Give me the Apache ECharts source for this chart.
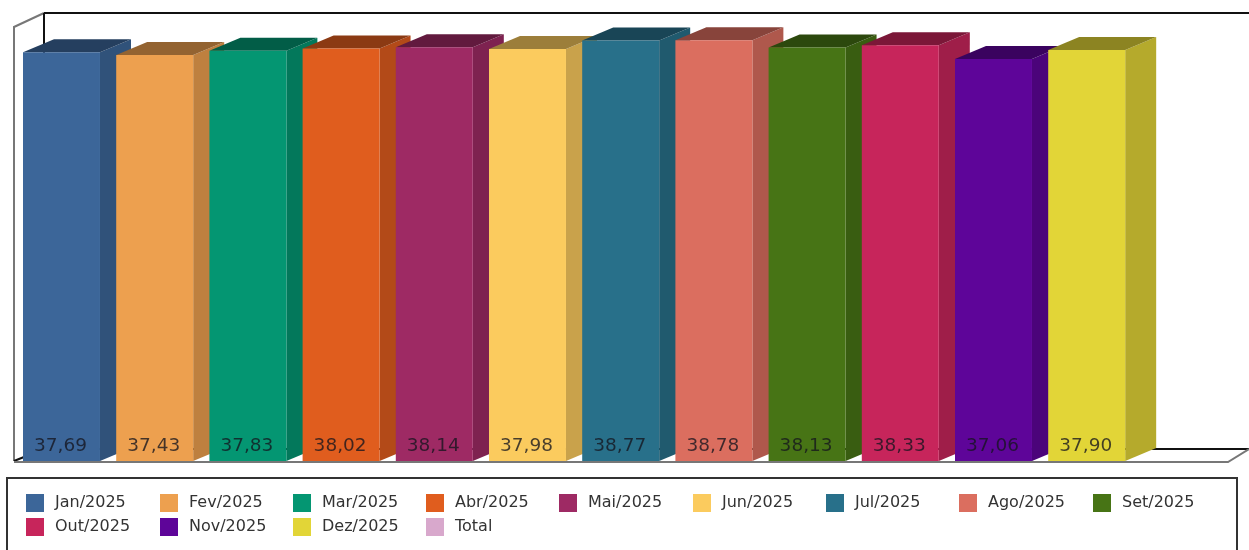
<!DOCTYPE html>
<html><head><meta charset="utf-8">
<style>html,body{margin:0;padding:0;background:#fff}#c{width:1249px;height:550px}</style>
<script src="https://cdn.jsdelivr.net/npm/echarts@6/dist/echarts.min.js"></script>
</head><body><div id="c"></div>
<script>
const categories = ['Jan/2025','Fev/2025','Mar/2025','Abr/2025','Mai/2025','Jun/2025','Jul/2025','Ago/2025','Set/2025','Out/2025','Nov/2025','Dez/2025'];
const values = [37.69,37.43,37.83,38.02,38.14,37.98,38.77,38.78,38.13,38.33,37.06,37.90];
const colors = ['#3C6699','#EDA04F','#049672','#E05D1E','#9E2A64','#FBCB5E','#28708A','#DB6E5F','#477415','#C7255B','#5E0599','#E2D537'];
const totalName = 'Total';
const totalColor = '#D8A8CC';
const legendColumnsX = [26,160,293,426,559,693,826,959,1093];

const chart = echarts.init(document.getElementById('c'));
const DX = 31, DY = 13;
const darken = (col, k) => echarts.color.lerp(k, [col, '#000000']);
function renderBar(params, api) {
  const c = api.coord([api.value(0), api.value(1)]);
  const base = api.coord([api.value(0), 0]);
  const band = api.size([1, 0])[0];
  const x0 = c[0] - band / 2, w = band * 0.826, x1 = x0 + w;
  const yT = c[1], yB = base[1];
  const col = api.visual('color');
  const label = api.value(1).toFixed(2).replace('.', ',');
  return { type: 'group', children: [
    { type: 'polygon', shape: { points: [[x1,yB],[x1+DX,yB-DY],[x1+DX,yT-DY],[x1,yT]] }, style: { fill: darken(col, 0.2) } },
    { type: 'polygon', shape: { points: [[x0,yT],[x0+DX,yT-DY],[x1+DX,yT-DY],[x1,yT]] }, style: { fill: darken(col, 0.38) } },
    { type: 'rect', shape: { x: x0, y: yT, width: w, height: yB - yT }, style: { fill: col } },
    { type: 'text', style: { x: x0 + w / 2 - 1, y: 446, text: label, align: 'center', verticalAlign: 'middle',
        fill: 'rgba(20,20,30,0.78)', font: '18.5px "DejaVu Sans"' } }
  ]};
}
const series = categories.map((name, i) => ({
  type: 'custom', name, renderItem: renderBar, itemStyle: { color: colors[i] },
  encode: { x: 0, y: 1 }, clip: false, data: [[i, values[i]]]
}));
series.push({ type: 'custom', name: totalName, renderItem: renderBar, itemStyle: { color: totalColor }, encode: { x: 0, y: 1 }, data: [] });

const allNames = categories.concat([totalName]);
const legends = legendColumnsX.map((x, i) => ({
  left: x, top: 494, orient: 'vertical', padding: 0, itemWidth: 18, itemHeight: 18, itemGap: 6,
  icon: 'rect', selectedMode: false,
  data: [allNames[i], allNames[i + 9]].filter(Boolean),
  textStyle: { color: '#333', fontFamily: 'DejaVu Sans', fontSize: 16, padding: [3,0,0,6] }
}));

const line = (pts, stroke, lw) => ({ type: 'polyline', z: 0, shape: { points: pts }, style: { stroke, lineWidth: lw, fill: null } });
chart.setOption({
  animation: false,
  backgroundColor: '#fff',
  color: colors.concat([totalColor]),
  grid: { left: 23, top: 13, width: 1118.4, height: 448 },
  xAxis: { type: 'category', data: categories, show: false },
  yAxis: { type: 'value', min: 0, max: 41.3, show: false },
  legend: legends,
  graphic: [
    line([[14,461],[14,27],[44,13]], '#777', 2),
    line([[44,13],[1249,13]], '#111', 2),
    line([[44,13],[44,449]], '#111', 2),
    line([[44,449],[1249,449]], '#111', 2),
    line([[14,461],[44,449]], '#111', 2),
    line([[14,462],[1228,462],[1249,449]], '#777', 2),
    line([[7,552],[7,478],[1237,478],[1237,552]], '#333', 2)
  ],
  series
});
</script></body></html>
